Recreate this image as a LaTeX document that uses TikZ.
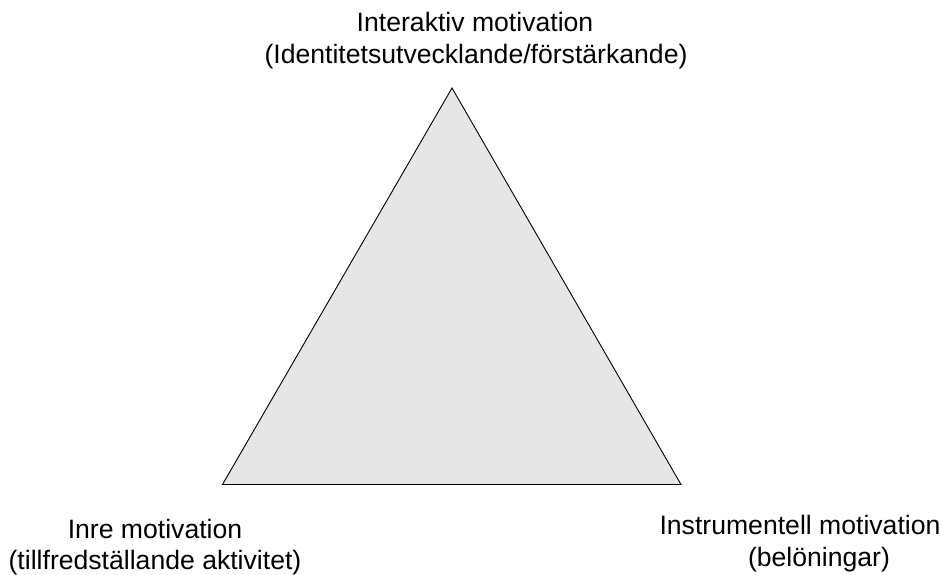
\documentclass[tikz,border=0pt]{standalone}
\usepackage{fontspec}
\setmainfont{Liberation Sans}
\definecolor{trifill}{RGB}{230,230,230}
\begin{document}
\begin{tikzpicture}[x=1pt,y=-1pt,
  lbl/.style={anchor=base,inner sep=0pt,font=\fontsize{26.6}{31}\selectfont}]
\useasboundingbox (0,0) rectangle (942,574);
% triangle corners
\coordinate (top) at (452,88);
\coordinate (left) at (222.5,484.5);
\coordinate (right) at (681,484.5);
\filldraw[fill=trifill,draw=black,line width=0.9pt,line join=miter] (top) -- (left) -- (right) -- cycle;
% labels
\node[lbl] (t1) at (475,31) {Interaktiv motivation};
\node[lbl] (t2) at (476,63) {(Identitetsutvecklande/förstärkande)};
\node[lbl] (l1) at (155,538) {Inre motivation};
\node[lbl] (l2) at (155,569) {(tillfredställande aktivitet)};
\node[lbl] (r1) at (800,534) {Instrumentell motivation};
\node[lbl] (r2) at (819,566) {(belöningar)};
\end{tikzpicture}
\end{document}
